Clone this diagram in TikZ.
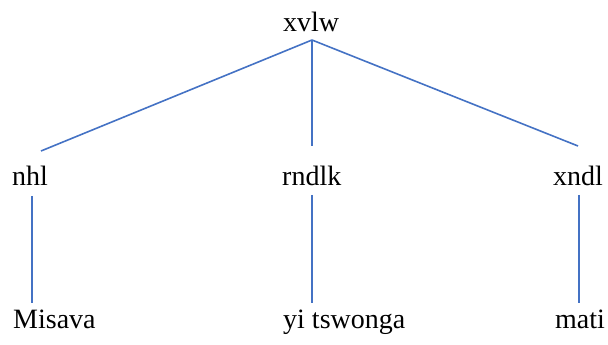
\documentclass[tikz,border=0pt]{standalone}
\usepackage{fontspec}
\setmainfont{Liberation Serif}
\definecolor{linkblue}{HTML}{4472C4}
\begin{document}
\begin{tikzpicture}[x=1pt,y=1pt,
  lbl/.style={anchor=base west,inner sep=0pt,font=\fontsize{28}{34}\selectfont},
  link/.style={draw=linkblue,line width=1.6pt}]
\useasboundingbox (0,0) rectangle (608,345);
\node[lbl] (root) at (283,313.3) {xvlw};
\node[lbl] (nhl) at (12,159) {nhl};
\node[lbl] (rndlk) at (282,159) {rndlk};
\node[lbl] (xndl) at (553,159) {xndl};
\node[lbl] (misava) at (13,16) {Misava};
\node[lbl] (yits) at (283,16) {yi tswonga};
\node[lbl] (mati) at (555,16) {mati};
\coordinate (rootb) at (312,305);
\coordinate (nhlt) at (41,194);
\coordinate (rndlkt) at (312,199);
\coordinate (xndlt) at (578,199);
\coordinate (nhlb) at (32,149);
\coordinate (rndlkb) at (312,150);
\coordinate (xndlb) at (579,150);
\coordinate (misavat) at (32,42);
\coordinate (yitst) at (312,42);
\coordinate (matit) at (579,42);
\draw[link] (rootb) -- (nhlt);
\draw[link] (rootb) -- (rndlkt);
\draw[link] (rootb) -- (xndlt);
\draw[link] (nhlb) -- (misavat);
\draw[link] (rndlkb) -- (yitst);
\draw[link] (xndlb) -- (matit);
\end{tikzpicture}
\end{document}
